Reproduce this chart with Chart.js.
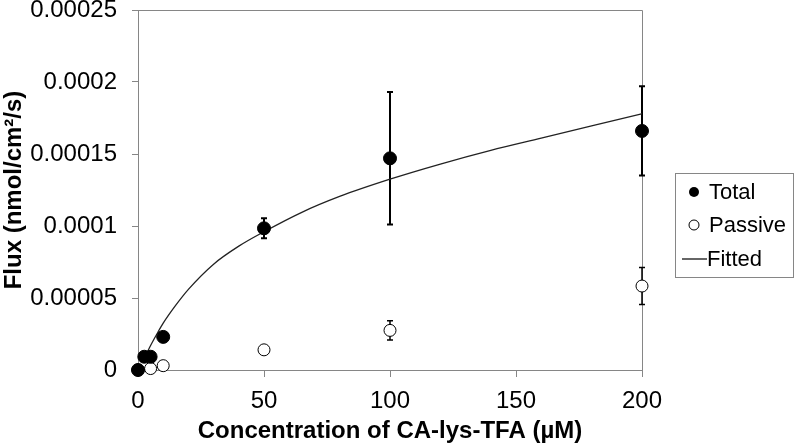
<!DOCTYPE html>
<html>
<head>
<meta charset="utf-8">
<script src="https://cdn.jsdelivr.net/npm/chart.js@4/dist/chart.umd.min.js"></script>
<style>
html,body{margin:0;padding:0;background:#fff;}
#wrap{width:800px;height:446px;position:relative;}
</style>
</head>
<body>
<div id="wrap"><canvas id="c" width="800" height="446"></canvas></div>
<script>
// ---- data ----
const totalX = [0, 2.5, 5, 10, 50, 100, 200];
const totalY = [0, 0.0000092, 0.0000092, 0.000023, 0.0000984, 0.000147, 0.000166];
const totalErr = [0, 0, 0, 0.0000025, 0.0000069, 0.000046, 0.000031];

const passiveX = [0, 5, 10, 50, 100, 200];
const passiveY = [0, 0.000001, 0.000003, 0.000014, 0.0000275, 0.0000583];
const passiveErr = [0, 0, 0, 0, 0.0000067, 0.0000128];

const fitX = [2.5, 5, 7.5, 10, 15, 20, 30, 40, 50, 65, 80, 100, 120, 140, 160, 180, 200];
const fitY = [0.000008, 0.000017, 0.000025, 0.0000325, 0.000045, 0.000056, 0.0000735, 0.000086, 0.000096,
              0.0001095, 0.0001205, 0.0001325, 0.000143, 0.0001525, 0.000161, 0.0001695, 0.000178];

const xTickLabels = ['0', '50', '100', '150', '200'];
const yTickLabels = ['0', '0.00005', '0.0001', '0.00015', '0.0002', '0.00025'];

const seriesLabels = ['Total', 'Passive', 'Fitted'];
const xTitle = 'Concentration of CA-lys-TFA (µM)';
const yTitle = 'Flux (nmol/cm²/s)';

const FONT = '"Liberation Sans", Arial, Helvetica, sans-serif';
const AXIS = '#868686';

const toPts = (xs, ys) => xs.map((x, i) => ({x: x, y: ys[i]}));

const errorBars = {
  id: 'errorBars',
  beforeDatasetsDraw(chart) {
    const ctx = chart.ctx, xs = chart.scales.x, ys = chart.scales.y;
    const sets = [[totalX, totalY, totalErr, 2], [passiveX, passiveY, passiveErr, 1.5]];
    ctx.save();
    ctx.strokeStyle = '#000';
    sets.forEach(([X, Y, E, w]) => {
      ctx.lineWidth = w;
      X.forEach((x, i) => {
        if (!E[i]) return;
        const px = xs.getPixelForValue(x);
        const t = ys.getPixelForValue(Y[i] + E[i]);
        const b = ys.getPixelForValue(Y[i] - E[i]);
        ctx.beginPath();
        ctx.moveTo(px, t); ctx.lineTo(px, b);
        ctx.moveTo(px - 3, t); ctx.lineTo(px + 3, t);
        ctx.moveTo(px - 3, b); ctx.lineTo(px + 3, b);
        ctx.stroke();
      });
    });
    ctx.restore();
  }
};

const frame = {
  id: 'frame',
  beforeDatasetsDraw(chart) {
    const {left, right, top, bottom} = chart.chartArea;
    const ctx = chart.ctx;
    ctx.save();
    ctx.strokeStyle = AXIS;
    ctx.lineWidth = 1;
    ctx.beginPath();
    ctx.moveTo(left, top + 0.5); ctx.lineTo(right + 0.5, top + 0.5); ctx.lineTo(right + 0.5, bottom);
    ctx.stroke();
    ctx.restore();
  }
};

const legendBox = {
  id: 'legendBox',
  afterDraw(chart) {
    const ctx = chart.ctx;
    const bx = 675.5, by = 173.5, bw = 118, bh = 104;
    ctx.save();
    ctx.fillStyle = '#fff';
    ctx.fillRect(bx, by, bw, bh);
    ctx.strokeStyle = AXIS;
    ctx.lineWidth = 1;
    ctx.strokeRect(bx, by, bw, bh);
    ctx.font = '22px ' + FONT;
    ctx.textBaseline = 'middle';
    ctx.fillStyle = '#000';
    const rows = [192, 225, 259];
    chart.data.datasets.forEach((ds, i) => {
      const y = rows[i];
      ctx.strokeStyle = '#000';
      if (i === 0) {
        ctx.beginPath(); ctx.arc(694, y, 5, 0, Math.PI * 2); ctx.fillStyle = '#000'; ctx.fill();
      } else if (i === 1) {
        ctx.beginPath(); ctx.arc(694, y, 5, 0, Math.PI * 2); ctx.fillStyle = '#fff'; ctx.fill();
        ctx.lineWidth = 1; ctx.stroke();
      } else {
        ctx.lineWidth = 1.2;
        ctx.beginPath(); ctx.moveTo(682, y); ctx.lineTo(707, y); ctx.stroke();
      }
      ctx.fillStyle = '#000';
      ctx.fillText(ds.label, i === 2 ? 707 : 709, y + 1);
    });
    ctx.restore();
  }
};

new Chart(document.getElementById('c'), {
  type: 'scatter',
  data: {
    datasets: [
      {
        label: seriesLabels[0],
        data: toPts(totalX, totalY),
        pointRadius: 6.5,
        pointBackgroundColor: '#000',
        pointBorderColor: '#000',
        pointBorderWidth: 1,
        showLine: false,
        clip: false
      },
      {
        label: seriesLabels[1],
        data: toPts(passiveX, passiveY),
        pointRadius: 6,
        pointBackgroundColor: '#fff',
        pointBorderColor: '#000',
        pointBorderWidth: 1,
        showLine: false,
        clip: false
      },
      {
        label: seriesLabels[2],
        data: toPts(fitX, fitY),
        showLine: true,
        pointRadius: 0,
        borderColor: '#222',
        borderWidth: 1.3,
        cubicInterpolationMode: 'monotone',
        fill: false,
        clip: false
      }
    ]
  },
  options: {
    responsive: false,
    animation: false,
    devicePixelRatio: 1,
    layout: {padding: {top: 10, right: 158, left: 0, bottom: 0}},
    plugins: {legend: {display: false}, tooltip: {enabled: false}},
    scales: {
      x: {
        type: 'linear', min: 0, max: 200,
        border: {color: AXIS, width: 1},
        grid: {display: true, drawOnChartArea: false, drawTicks: true, tickLength: 7, color: AXIS},
        ticks: {
          stepSize: 50, padding: 10, color: '#000',
          font: {family: FONT, size: 24},
          maxRotation: 0,
          callback: (v, i) => xTickLabels[i]
        },
        title: {display: true, text: xTitle, color: '#000', font: {family: FONT, size: 24, weight: 'bold'}, padding: {top: 0, bottom: 0}},
        afterFit: s => { s.height = 76; s.paddingLeft = 0; s.paddingRight = 0; }
      },
      y: {
        type: 'linear', min: 0, max: 0.00025,
        border: {color: AXIS, width: 1},
        grid: {display: true, drawOnChartArea: false, drawTicks: true, tickLength: 6, color: AXIS},
        ticks: {
          stepSize: 0.00005, padding: 15, color: '#000',
          font: {family: FONT, size: 24},
          callback: (v, i) => yTickLabels[i]
        },
        title: {display: true, text: yTitle, color: '#000', font: {family: FONT, size: 24, weight: 'bold'}, padding: {top: 0, bottom: 0}},
        afterFit: s => { s.width = 138; s.paddingTop = 0; s.paddingBottom = 0; }
      }
    }
  },
  plugins: [frame, errorBars, legendBox]
});
</script>
</body>
</html>
